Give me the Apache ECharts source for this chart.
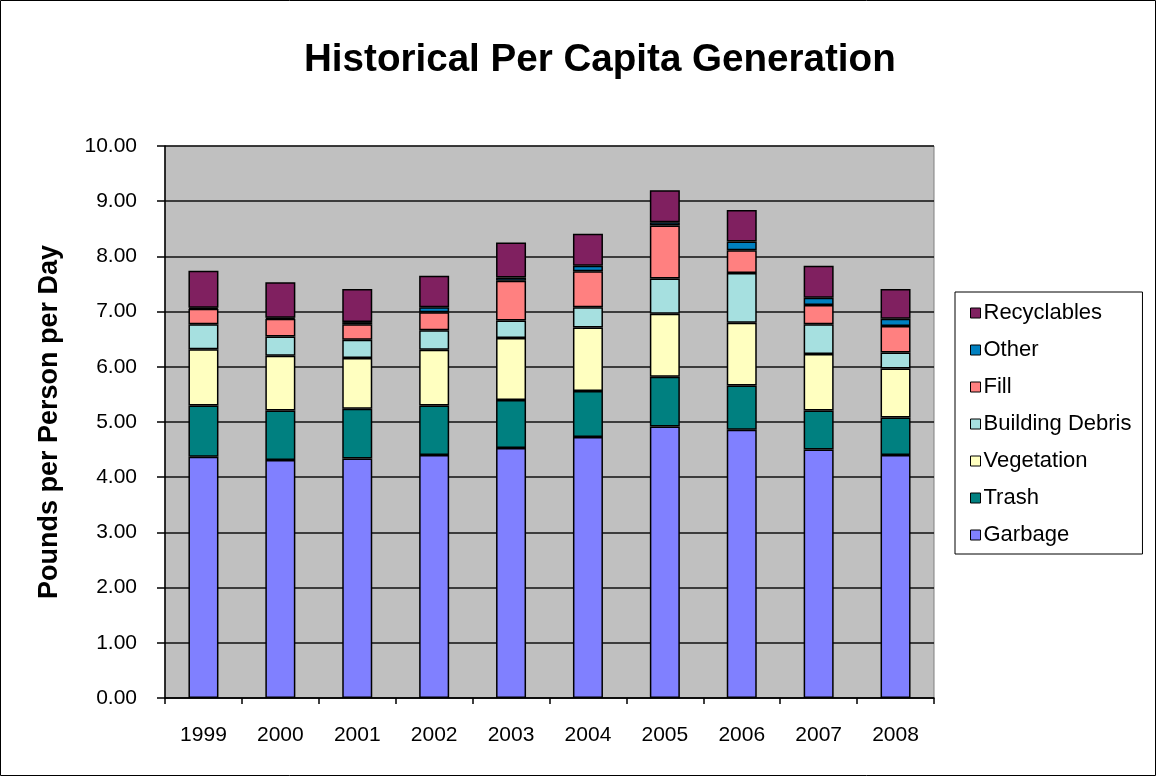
<!DOCTYPE html>
<html>
<head>
<meta charset="utf-8">
<script src="https://cdn.jsdelivr.net/npm/echarts@6/dist/echarts.min.js"></script>
<style>
  html, body { margin: 0; padding: 0; background: #fff; }
  #chart { width: 1157px; height: 777px; }
</style>
</head>
<body>
<div id="chart"></div>
<script>
// 数据
const years = ['1999', '2000', '2001', '2002', '2003', '2004', '2005', '2006', '2007', '2008']
const garbage = [4.37, 4.31, 4.34, 4.40, 4.53, 4.73, 4.92, 4.86, 4.50, 4.40]
const trash = [0.93, 0.90, 0.90, 0.90, 0.87, 0.83, 0.90, 0.80, 0.71, 0.68]
const vegetation = [1.02, 0.99, 0.92, 1.01, 1.12, 1.15, 1.14, 1.14, 1.02, 0.89]
const buildingDebris = [0.45, 0.35, 0.33, 0.35, 0.32, 0.37, 0.64, 0.90, 0.54, 0.29]
const fill = [0.28, 0.32, 0.28, 0.33, 0.72, 0.65, 0.96, 0.41, 0.35, 0.48]
const other = [0.02, 0.02, 0.04, 0.09, 0.06, 0.10, 0.06, 0.16, 0.13, 0.13]
const recyclables = [0.67, 0.64, 0.60, 0.57, 0.63, 0.58, 0.58, 0.57, 0.58, 0.54]

const font = 'Liberation Sans, Arial, sans-serif'

function bar(name, data, color) {
    return {
        name: name,
        type: 'bar',
        stack: 'total',
        barWidth: 30,
        data: data,
        itemStyle: { color: color, borderColor: '#000', borderWidth: 1.5 }
    }
}

const myChart = echarts.init(document.getElementById('chart'))
const option = {
    animation: false,
    textStyle: { fontFamily: font },
    title: {
        text: 'Historical Per Capita Generation',
        left: 299,
        top: 36,
        textStyle: { fontFamily: font, fontSize: 38.6, fontWeight: 'bold', color: '#000' }
    },
    graphic: [{
        type: 'rect',
        shape: { x: 0.5, y: 0.5, width: 1155, height: 775 },
        style: { fill: null, stroke: '#000', lineWidth: 1 },
        silent: true
    }],
    legend: {
        orient: 'vertical',
        left: 955,
        top: 292,
        padding: [10, 11, 8, 15],
        itemWidth: 10,
        itemHeight: 10,
        itemGap: 15,
        backgroundColor: '#fff',
        borderColor: '#000',
        borderWidth: 1,
        borderRadius: 0,
        icon: 'rect',
        itemStyle: { borderColor: '#000', borderWidth: 1 },
        textStyle: { fontFamily: font, fontSize: 22, color: '#000', lineHeight: 21, padding: [0, 0, 0, -2] },
        data: ['Recyclables', 'Other', 'Fill', 'Building Debris', 'Vegetation', 'Trash', 'Garbage']
    },
    grid: {
        left: 165,
        right: 223,
        top: 146,
        bottom: 79,
        show: true,
        backgroundColor: '#C0C0C0',
        borderColor: '#808080',
        borderWidth: 1
    },
    xAxis: {
        type: 'category',
        data: years,
        axisLine: { lineStyle: { color: '#000', width: 1.5 } },
        axisTick: { show: true, alignWithLabel: false, length: 6, lineStyle: { color: '#000', width: 1.5 } },
        axisLabel: { fontFamily: font, fontSize: 21, color: '#000', margin: 27 }
    },
    yAxis: {
        type: 'value',
        min: 0,
        max: 10,
        interval: 1,
        name: 'Pounds per Person per Day',
        nameLocation: 'middle',
        nameGap: 102,
        nameTextStyle: { fontFamily: font, fontSize: 27, fontWeight: 'bold', color: '#000' },
        axisLine: { show: true, lineStyle: { color: '#000', width: 1.5 } },
        axisTick: { show: true, length: 8, lineStyle: { color: '#000', width: 1.5 } },
        axisLabel: {
            fontFamily: font, fontSize: 21, color: '#000', margin: 28,
            formatter: function (v) { return v.toFixed(2) }
        },
        splitLine: { lineStyle: { color: '#111', width: 1.5 } }
    },
    series: [
        bar('Garbage', garbage, '#8080FF'),
        bar('Trash', trash, '#008080'),
        bar('Vegetation', vegetation, '#FFFFC0'),
        bar('Building Debris', buildingDebris, '#A6E0E0'),
        bar('Fill', fill, '#FF8080'),
        bar('Other', other, '#0080C0'),
        bar('Recyclables', recyclables, '#802060')
    ]
}
myChart.setOption(option)
</script>
</body>
</html>
